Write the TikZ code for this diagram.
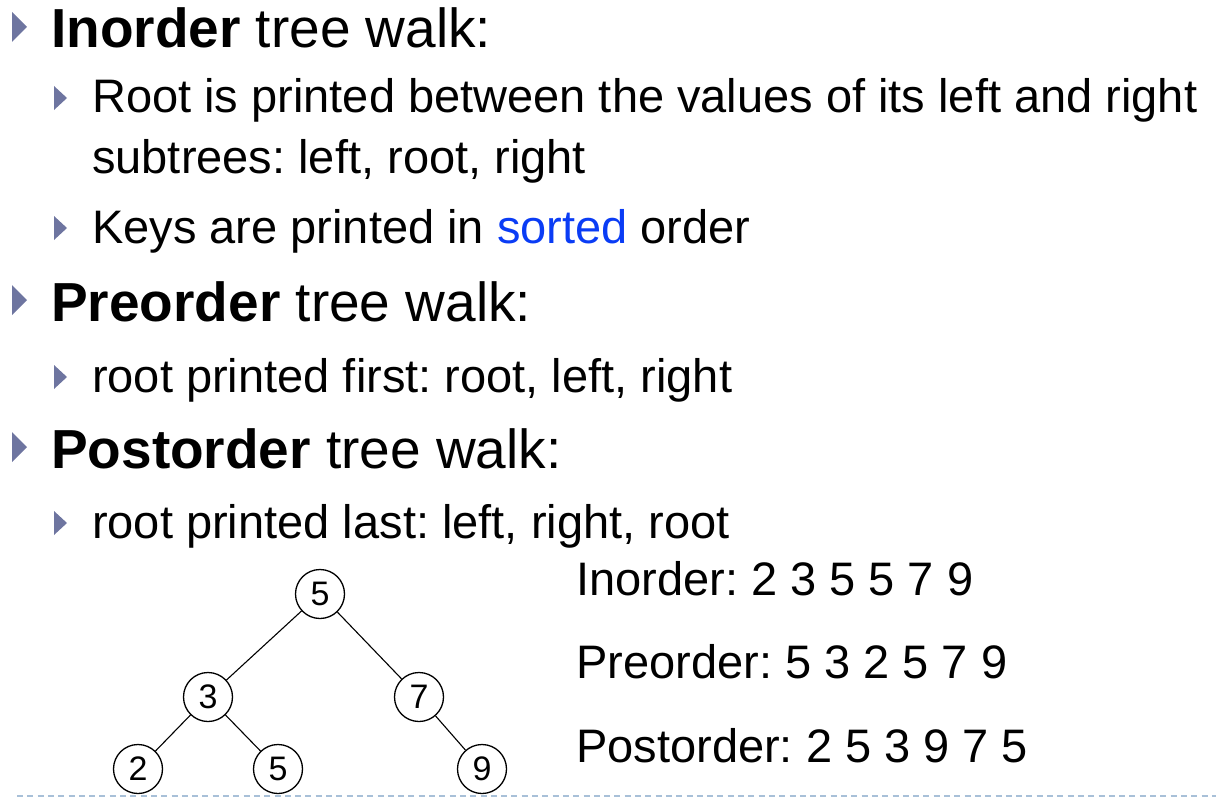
\documentclass[tikz,border=0pt]{standalone}
\usepackage{fontspec}
\setmainfont{Liberation Sans}
\frenchspacing
\definecolor{bulletcol}{RGB}{110,117,160}
\definecolor{sortblue}{RGB}{10,60,245}
\definecolor{dashcol}{RGB}{168,192,216}
\newcommand{\lvlone}{\fontsize{55}{60}\selectfont}
\newcommand{\lvltwo}{\fontsize{47}{52}\selectfont}
\newcommand{\digitsize}{\fontsize{34}{38}\selectfont}
\begin{document}
\begin{tikzpicture}[x=1pt,y=-1pt,
  txtone/.style={anchor=base west,inner sep=0pt,font=\lvlone},
  txttwo/.style={anchor=base west,inner sep=0pt,font=\lvltwo},
  treenode/.style={circle,draw=black,line width=1.3pt,minimum size=49pt,inner sep=0pt,font=\digitsize},
  treeedge/.style={draw=black,line width=1.1pt},
  bulone/.style={fill=bulletcol},
  bultwo/.style={fill=bulletcol}]
\useasboundingbox (0,0) rectangle (1216,800);
% level-one bullets
\foreach \b in {48,321,468}{
  \fill[bulone] (12,\b-36) -- (27,\b-21) -- (12,\b-6) -- cycle;
}
% level-two bullets
\foreach \b in {113,243,392,538}{
  \fill[bultwo] (54,\b-27) -- (67,\b-15) -- (54,\b-3) -- cycle;
}
\node[txtone] (l1) at (51,48) {\textbf{Inorder} tree walk:};
\node[txttwo] (l2) at (92,113) {Root is printed between the values of its left and right};
\node[txttwo] (l3) at (92,173) {subtrees: left, root, right};
\node[txttwo] (l4) at (92,243) {Keys are printed in \textcolor{sortblue}{sorted} order};
\node[txtone] (l5) at (51,321) {\textbf{Preorder} tree walk:};
\node[txttwo] (l6) at (92,392) {root printed first: root, left, right};
\node[txtone] (l7) at (51,468) {\textbf{Postorder} tree walk:};
\node[txttwo] (l8) at (92,538) {root printed last: left, right, root};
\node[txttwo] (r1) at (576,595) {Inorder: 2 3 5 5 7 9};
\node[txttwo] (r2) at (576,678) {Preorder: 5 3 2 5 7 9};
\node[txttwo] (r3) at (576,762) {Postorder: 2 5 3 9 7 5};
% tree
\node[treenode] (n5) at (320,594) {5};
\node[treenode] (n3) at (208,697) {3};
\node[treenode] (n7) at (419,697) {7};
\node[treenode] (n2) at (138,769) {2};
\node[treenode] (n5b) at (278,769) {5};
\node[treenode] (n9) at (482,769) {9};
\draw[treeedge] (n5) -- (n3);
\draw[treeedge] (n5) -- (n7);
\draw[treeedge] (n3) -- (n2);
\draw[treeedge] (n3) -- (n5b);
\draw[treeedge] (n7) -- (n9);
% dashed rule
\coordinate (dl) at (17,796);
\coordinate (dr) at (1216,796);
\draw[dashcol,line width=1.6pt,dash pattern=on 6pt off 4.3pt] (dl) -- (dr);
\end{tikzpicture}
\end{document}
